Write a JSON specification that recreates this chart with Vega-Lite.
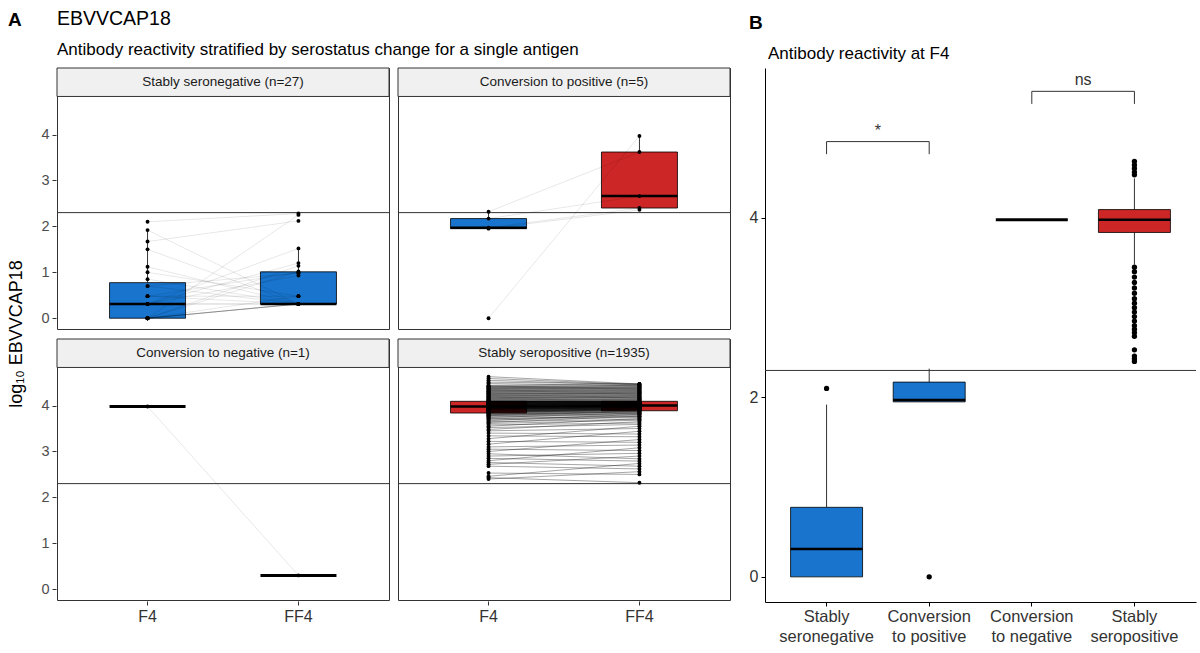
{
"$schema": "https://vega.github.io/schema/vega-lite/v6.json",
"background": "white",
"padding": {"left": 7, "right": 3, "top": 8, "bottom": 0},
"title": {"text": "A", "anchor": "start", "frame": "bounds", "fontSize": 19, "fontWeight": "bold", "color": "black", "offset": -21},
"config": {
  "font": "Liberation Sans",
  "view": {"stroke": "#333333", "strokeWidth": 1},
  "axis": {"grid": false, "labelColor": "#4d4d4d", "tickColor": "#333333", "domainColor": "#333333", "labelFontSize": 14.5, "tickSize": 4, "labelPadding": 3, "titleFontWeight": "normal", "titleColor": "black", "titleFontSize": 14},
  "title": {"color": "black", "subtitleColor": "black"}
},
"datasets": {
  "groups": [
    {"g": "SN", "label": "Stably seronegative", "strip": "Stably seronegative (n=27)", "f4s": "neg", "ff4s": "neg"},
    {"g": "CP", "label": "Conversion to positive", "strip": "Conversion to positive (n=5)", "f4s": "neg", "ff4s": "pos"},
    {"g": "CN", "label": "Conversion to negative", "strip": "Conversion to negative (n=1)", "f4s": "pos", "ff4s": "neg"},
    {"g": "SP", "label": "Stably seropositive", "strip": "Stably seropositive (n=1935)", "f4s": "pos", "ff4s": "pos"}
  ],
  "brackets": [
    {"x1": "Stably seronegative", "x2": "Conversion to positive", "y": 4.85, "ytip": 4.71, "label": "*"},
    {"x1": "Conversion to negative", "x2": "Stably seropositive", "y": 5.41, "ytip": 5.27, "label": "ns"}
  ],
  "obs": [
{"id":"n1","g":"SN","t":"F4","v":0,"s":"neg"},{"id":"n1","g":"SN","t":"FF4","v":0.31,"s":"neg"},
{"id":"n2","g":"SN","t":"F4","v":0,"s":"neg"},{"id":"n2","g":"SN","t":"FF4","v":0.31,"s":"neg"},
{"id":"n3","g":"SN","t":"F4","v":0,"s":"neg"},{"id":"n3","g":"SN","t":"FF4","v":0.31,"s":"neg"},
{"id":"n4","g":"SN","t":"F4","v":0,"s":"neg"},{"id":"n4","g":"SN","t":"FF4","v":0.31,"s":"neg"},
{"id":"n5","g":"SN","t":"F4","v":0,"s":"neg"},{"id":"n5","g":"SN","t":"FF4","v":0.31,"s":"neg"},
{"id":"n6","g":"SN","t":"F4","v":0,"s":"neg"},{"id":"n6","g":"SN","t":"FF4","v":0.48,"s":"neg"},
{"id":"n7","g":"SN","t":"F4","v":0,"s":"neg"},{"id":"n7","g":"SN","t":"FF4","v":1.14,"s":"neg"},
{"id":"n8","g":"SN","t":"F4","v":0,"s":"neg"},{"id":"n8","g":"SN","t":"FF4","v":0.31,"s":"neg"},
{"id":"n9","g":"SN","t":"F4","v":0,"s":"neg"},{"id":"n9","g":"SN","t":"FF4","v":2.25,"s":"neg"},
{"id":"n10","g":"SN","t":"F4","v":0,"s":"neg"},{"id":"n10","g":"SN","t":"FF4","v":1.02,"s":"neg"},
{"id":"n11","g":"SN","t":"F4","v":0.31,"s":"neg"},{"id":"n11","g":"SN","t":"FF4","v":0.31,"s":"neg"},
{"id":"n12","g":"SN","t":"F4","v":0.31,"s":"neg"},{"id":"n12","g":"SN","t":"FF4","v":1.20,"s":"neg"},
{"id":"n13","g":"SN","t":"F4","v":0.31,"s":"neg"},{"id":"n13","g":"SN","t":"FF4","v":0.31,"s":"neg"},
{"id":"n14","g":"SN","t":"F4","v":0.31,"s":"neg"},{"id":"n14","g":"SN","t":"FF4","v":1.52,"s":"neg"},
{"id":"n15","g":"SN","t":"F4","v":0.31,"s":"neg"},{"id":"n15","g":"SN","t":"FF4","v":0.93,"s":"neg"},
{"id":"n16","g":"SN","t":"F4","v":0.48,"s":"neg"},{"id":"n16","g":"SN","t":"FF4","v":0.31,"s":"neg"},
{"id":"n17","g":"SN","t":"F4","v":0.48,"s":"neg"},{"id":"n17","g":"SN","t":"FF4","v":1.0,"s":"neg"},
{"id":"n18","g":"SN","t":"F4","v":0.48,"s":"neg"},{"id":"n18","g":"SN","t":"FF4","v":0.48,"s":"neg"},
{"id":"n19","g":"SN","t":"F4","v":0.70,"s":"neg"},{"id":"n19","g":"SN","t":"FF4","v":0.31,"s":"neg"},
{"id":"n20","g":"SN","t":"F4","v":0.70,"s":"neg"},{"id":"n20","g":"SN","t":"FF4","v":0.98,"s":"neg"},
{"id":"n21","g":"SN","t":"F4","v":0.85,"s":"neg"},{"id":"n21","g":"SN","t":"FF4","v":0.31,"s":"neg"},
{"id":"n22","g":"SN","t":"F4","v":1.0,"s":"neg"},{"id":"n22","g":"SN","t":"FF4","v":0.48,"s":"neg"},
{"id":"n23","g":"SN","t":"F4","v":1.12,"s":"neg"},{"id":"n23","g":"SN","t":"FF4","v":0.31,"s":"neg"},
{"id":"n24","g":"SN","t":"F4","v":1.5,"s":"neg"},{"id":"n24","g":"SN","t":"FF4","v":0.31,"s":"neg"},
{"id":"n25","g":"SN","t":"F4","v":1.67,"s":"neg"},{"id":"n25","g":"SN","t":"FF4","v":2.12,"s":"neg"},
{"id":"n26","g":"SN","t":"F4","v":1.92,"s":"neg"},{"id":"n26","g":"SN","t":"FF4","v":0.31,"s":"neg"},
{"id":"n27","g":"SN","t":"F4","v":2.1,"s":"neg"},{"id":"n27","g":"SN","t":"FF4","v":2.28,"s":"neg"},
{"id":"c1","g":"CP","t":"F4","v":0,"s":"neg"},{"id":"c1","g":"CP","t":"FF4","v":3.97,"s":"pos"},
{"id":"c2","g":"CP","t":"F4","v":2.32,"s":"neg"},{"id":"c2","g":"CP","t":"FF4","v":3.62,"s":"pos"},
{"id":"c3","g":"CP","t":"F4","v":2.17,"s":"neg"},{"id":"c3","g":"CP","t":"FF4","v":2.66,"s":"pos"},
{"id":"c4","g":"CP","t":"F4","v":1.97,"s":"neg"},{"id":"c4","g":"CP","t":"FF4","v":2.40,"s":"pos"},
{"id":"c5","g":"CP","t":"F4","v":1.95,"s":"neg"},{"id":"c5","g":"CP","t":"FF4","v":2.36,"s":"pos"},
{"id":"m1","g":"CN","t":"F4","v":3.98,"s":"pos"},{"id":"m1","g":"CN","t":"FF4","v":0.30,"s":"neg"},
{"id":"p1","g":"SP","t":"F4","v":2.40,"s":"pos"},{"id":"p1","g":"SP","t":"FF4","v":2.56,"s":"pos"},
{"id":"p2","g":"SP","t":"F4","v":2.43,"s":"pos"},{"id":"p2","g":"SP","t":"FF4","v":2.32,"s":"pos"},
{"id":"p3","g":"SP","t":"F4","v":2.46,"s":"pos"},{"id":"p3","g":"SP","t":"FF4","v":2.74,"s":"pos"},
{"id":"p4","g":"SP","t":"F4","v":2.53,"s":"pos"},{"id":"p4","g":"SP","t":"FF4","v":2.50,"s":"pos"},
{"id":"p5","g":"SP","t":"F4","v":2.68,"s":"pos"},{"id":"p5","g":"SP","t":"FF4","v":2.62,"s":"pos"},
{"id":"p6","g":"SP","t":"F4","v":2.72,"s":"pos"},{"id":"p6","g":"SP","t":"FF4","v":2.90,"s":"pos"},
{"id":"p7","g":"SP","t":"F4","v":2.76,"s":"pos"},{"id":"p7","g":"SP","t":"FF4","v":2.68,"s":"pos"},
{"id":"p8","g":"SP","t":"F4","v":2.80,"s":"pos"},{"id":"p8","g":"SP","t":"FF4","v":3.08,"s":"pos"},
{"id":"p9","g":"SP","t":"F4","v":2.85,"s":"pos"},{"id":"p9","g":"SP","t":"FF4","v":2.79,"s":"pos"},
{"id":"p10","g":"SP","t":"F4","v":2.90,"s":"pos"},{"id":"p10","g":"SP","t":"FF4","v":2.96,"s":"pos"},
{"id":"p11","g":"SP","t":"F4","v":2.95,"s":"pos"},{"id":"p11","g":"SP","t":"FF4","v":2.84,"s":"pos"},
{"id":"p12","g":"SP","t":"F4","v":3.00,"s":"pos"},{"id":"p12","g":"SP","t":"FF4","v":3.26,"s":"pos"},
{"id":"p13","g":"SP","t":"F4","v":3.05,"s":"pos"},{"id":"p13","g":"SP","t":"FF4","v":3.02,"s":"pos"},
{"id":"p14","g":"SP","t":"F4","v":3.10,"s":"pos"},{"id":"p14","g":"SP","t":"FF4","v":3.14,"s":"pos"},
{"id":"p15","g":"SP","t":"F4","v":3.16,"s":"pos"},{"id":"p15","g":"SP","t":"FF4","v":3.44,"s":"pos"},
{"id":"p16","g":"SP","t":"F4","v":3.22,"s":"pos"},{"id":"p16","g":"SP","t":"FF4","v":3.20,"s":"pos"},
{"id":"p17","g":"SP","t":"F4","v":3.28,"s":"pos"},{"id":"p17","g":"SP","t":"FF4","v":3.55,"s":"pos"},
{"id":"p18","g":"SP","t":"F4","v":3.34,"s":"pos"},{"id":"p18","g":"SP","t":"FF4","v":3.32,"s":"pos"},
{"id":"p19","g":"SP","t":"F4","v":3.40,"s":"pos"},{"id":"p19","g":"SP","t":"FF4","v":3.38,"s":"pos"},
{"id":"p20","g":"SP","t":"F4","v":3.45,"s":"pos"},{"id":"p20","g":"SP","t":"FF4","v":3.50,"s":"pos"},
{"id":"p21","g":"SP","t":"F4","v":3.48,"s":"pos"},{"id":"p21","g":"SP","t":"FF4","v":3.65,"s":"pos"},
{"id":"p22","g":"SP","t":"F4","v":3.52,"s":"pos"},{"id":"p22","g":"SP","t":"FF4","v":3.59,"s":"pos"},
{"id":"p23","g":"SP","t":"F4","v":3.55,"s":"pos"},{"id":"p23","g":"SP","t":"FF4","v":3.72,"s":"pos"},
{"id":"p24","g":"SP","t":"F4","v":3.58,"s":"pos"},{"id":"p24","g":"SP","t":"FF4","v":3.62,"s":"pos"},
{"id":"p25","g":"SP","t":"F4","v":3.61,"s":"pos"},{"id":"p25","g":"SP","t":"FF4","v":3.68,"s":"pos"},
{"id":"p26","g":"SP","t":"F4","v":3.63,"s":"pos"},{"id":"p26","g":"SP","t":"FF4","v":3.77,"s":"pos"},
{"id":"p27","g":"SP","t":"F4","v":3.65,"s":"pos"},{"id":"p27","g":"SP","t":"FF4","v":3.70,"s":"pos"},
{"id":"p28","g":"SP","t":"F4","v":3.67,"s":"pos"},{"id":"p28","g":"SP","t":"FF4","v":3.81,"s":"pos"},
{"id":"p29","g":"SP","t":"F4","v":3.69,"s":"pos"},{"id":"p29","g":"SP","t":"FF4","v":3.74,"s":"pos"},
{"id":"p30","g":"SP","t":"F4","v":3.71,"s":"pos"},{"id":"p30","g":"SP","t":"FF4","v":3.78,"s":"pos"},
{"id":"p31","g":"SP","t":"F4","v":3.72,"s":"pos"},{"id":"p31","g":"SP","t":"FF4","v":3.76,"s":"pos"},
{"id":"p32","g":"SP","t":"F4","v":3.74,"s":"pos"},{"id":"p32","g":"SP","t":"FF4","v":3.84,"s":"pos"},
{"id":"p33","g":"SP","t":"F4","v":3.75,"s":"pos"},{"id":"p33","g":"SP","t":"FF4","v":3.80,"s":"pos"},
{"id":"p34","g":"SP","t":"F4","v":3.77,"s":"pos"},{"id":"p34","g":"SP","t":"FF4","v":3.82,"s":"pos"},
{"id":"p35","g":"SP","t":"F4","v":3.78,"s":"pos"},{"id":"p35","g":"SP","t":"FF4","v":3.87,"s":"pos"},
{"id":"p36","g":"SP","t":"F4","v":3.79,"s":"pos"},{"id":"p36","g":"SP","t":"FF4","v":3.83,"s":"pos"},
{"id":"p37","g":"SP","t":"F4","v":3.80,"s":"pos"},{"id":"p37","g":"SP","t":"FF4","v":3.88,"s":"pos"},
{"id":"p38","g":"SP","t":"F4","v":3.81,"s":"pos"},{"id":"p38","g":"SP","t":"FF4","v":3.85,"s":"pos"},
{"id":"p39","g":"SP","t":"F4","v":3.82,"s":"pos"},{"id":"p39","g":"SP","t":"FF4","v":3.86,"s":"pos"},
{"id":"p40","g":"SP","t":"F4","v":3.83,"s":"pos"},{"id":"p40","g":"SP","t":"FF4","v":3.88,"s":"pos"},
{"id":"p41","g":"SP","t":"F4","v":3.84,"s":"pos"},{"id":"p41","g":"SP","t":"FF4","v":3.89,"s":"pos"},
{"id":"p42","g":"SP","t":"F4","v":3.85,"s":"pos"},{"id":"p42","g":"SP","t":"FF4","v":3.90,"s":"pos"},
{"id":"p43","g":"SP","t":"F4","v":3.85,"s":"pos"},{"id":"p43","g":"SP","t":"FF4","v":3.90,"s":"pos"},
{"id":"p44","g":"SP","t":"F4","v":3.86,"s":"pos"},{"id":"p44","g":"SP","t":"FF4","v":3.91,"s":"pos"},
{"id":"p45","g":"SP","t":"F4","v":3.86,"s":"pos"},{"id":"p45","g":"SP","t":"FF4","v":3.91,"s":"pos"},
{"id":"p46","g":"SP","t":"F4","v":3.87,"s":"pos"},{"id":"p46","g":"SP","t":"FF4","v":3.92,"s":"pos"},
{"id":"p47","g":"SP","t":"F4","v":3.87,"s":"pos"},{"id":"p47","g":"SP","t":"FF4","v":3.92,"s":"pos"},
{"id":"p48","g":"SP","t":"F4","v":3.88,"s":"pos"},{"id":"p48","g":"SP","t":"FF4","v":3.92,"s":"pos"},
{"id":"p49","g":"SP","t":"F4","v":3.88,"s":"pos"},{"id":"p49","g":"SP","t":"FF4","v":3.93,"s":"pos"},
{"id":"p50","g":"SP","t":"F4","v":3.89,"s":"pos"},{"id":"p50","g":"SP","t":"FF4","v":3.93,"s":"pos"},
{"id":"p51","g":"SP","t":"F4","v":3.89,"s":"pos"},{"id":"p51","g":"SP","t":"FF4","v":3.93,"s":"pos"},
{"id":"p52","g":"SP","t":"F4","v":3.90,"s":"pos"},{"id":"p52","g":"SP","t":"FF4","v":3.94,"s":"pos"},
{"id":"p53","g":"SP","t":"F4","v":3.90,"s":"pos"},{"id":"p53","g":"SP","t":"FF4","v":3.94,"s":"pos"},
{"id":"p54","g":"SP","t":"F4","v":3.91,"s":"pos"},{"id":"p54","g":"SP","t":"FF4","v":3.94,"s":"pos"},
{"id":"p55","g":"SP","t":"F4","v":3.91,"s":"pos"},{"id":"p55","g":"SP","t":"FF4","v":3.95,"s":"pos"},
{"id":"p56","g":"SP","t":"F4","v":3.92,"s":"pos"},{"id":"p56","g":"SP","t":"FF4","v":3.95,"s":"pos"},
{"id":"p57","g":"SP","t":"F4","v":3.92,"s":"pos"},{"id":"p57","g":"SP","t":"FF4","v":3.95,"s":"pos"},
{"id":"p58","g":"SP","t":"F4","v":3.92,"s":"pos"},{"id":"p58","g":"SP","t":"FF4","v":3.96,"s":"pos"},
{"id":"p59","g":"SP","t":"F4","v":3.93,"s":"pos"},{"id":"p59","g":"SP","t":"FF4","v":3.96,"s":"pos"},
{"id":"p60","g":"SP","t":"F4","v":3.93,"s":"pos"},{"id":"p60","g":"SP","t":"FF4","v":3.96,"s":"pos"},
{"id":"p61","g":"SP","t":"F4","v":3.93,"s":"pos"},{"id":"p61","g":"SP","t":"FF4","v":3.96,"s":"pos"},
{"id":"p62","g":"SP","t":"F4","v":3.94,"s":"pos"},{"id":"p62","g":"SP","t":"FF4","v":3.97,"s":"pos"},
{"id":"p63","g":"SP","t":"F4","v":3.94,"s":"pos"},{"id":"p63","g":"SP","t":"FF4","v":3.97,"s":"pos"},
{"id":"p64","g":"SP","t":"F4","v":3.94,"s":"pos"},{"id":"p64","g":"SP","t":"FF4","v":3.97,"s":"pos"},
{"id":"p65","g":"SP","t":"F4","v":3.95,"s":"pos"},{"id":"p65","g":"SP","t":"FF4","v":3.97,"s":"pos"},
{"id":"p66","g":"SP","t":"F4","v":3.95,"s":"pos"},{"id":"p66","g":"SP","t":"FF4","v":3.98,"s":"pos"},
{"id":"p67","g":"SP","t":"F4","v":3.95,"s":"pos"},{"id":"p67","g":"SP","t":"FF4","v":3.98,"s":"pos"},
{"id":"p68","g":"SP","t":"F4","v":3.96,"s":"pos"},{"id":"p68","g":"SP","t":"FF4","v":3.98,"s":"pos"},
{"id":"p69","g":"SP","t":"F4","v":3.96,"s":"pos"},{"id":"p69","g":"SP","t":"FF4","v":3.98,"s":"pos"},
{"id":"p70","g":"SP","t":"F4","v":3.96,"s":"pos"},{"id":"p70","g":"SP","t":"FF4","v":3.98,"s":"pos"},
{"id":"p71","g":"SP","t":"F4","v":3.96,"s":"pos"},{"id":"p71","g":"SP","t":"FF4","v":3.99,"s":"pos"},
{"id":"p72","g":"SP","t":"F4","v":3.97,"s":"pos"},{"id":"p72","g":"SP","t":"FF4","v":3.99,"s":"pos"},
{"id":"p73","g":"SP","t":"F4","v":3.97,"s":"pos"},{"id":"p73","g":"SP","t":"FF4","v":3.99,"s":"pos"},
{"id":"p74","g":"SP","t":"F4","v":3.97,"s":"pos"},{"id":"p74","g":"SP","t":"FF4","v":3.99,"s":"pos"},
{"id":"p75","g":"SP","t":"F4","v":3.97,"s":"pos"},{"id":"p75","g":"SP","t":"FF4","v":3.99,"s":"pos"},
{"id":"p76","g":"SP","t":"F4","v":3.97,"s":"pos"},{"id":"p76","g":"SP","t":"FF4","v":4.00,"s":"pos"},
{"id":"p77","g":"SP","t":"F4","v":3.98,"s":"pos"},{"id":"p77","g":"SP","t":"FF4","v":4.00,"s":"pos"},
{"id":"p78","g":"SP","t":"F4","v":3.98,"s":"pos"},{"id":"p78","g":"SP","t":"FF4","v":4.00,"s":"pos"},
{"id":"p79","g":"SP","t":"F4","v":3.98,"s":"pos"},{"id":"p79","g":"SP","t":"FF4","v":4.00,"s":"pos"},
{"id":"p80","g":"SP","t":"F4","v":3.98,"s":"pos"},{"id":"p80","g":"SP","t":"FF4","v":4.00,"s":"pos"},
{"id":"p81","g":"SP","t":"F4","v":3.98,"s":"pos"},{"id":"p81","g":"SP","t":"FF4","v":4.00,"s":"pos"},
{"id":"p82","g":"SP","t":"F4","v":3.99,"s":"pos"},{"id":"p82","g":"SP","t":"FF4","v":4.00,"s":"pos"},
{"id":"p83","g":"SP","t":"F4","v":3.99,"s":"pos"},{"id":"p83","g":"SP","t":"FF4","v":4.00,"s":"pos"},
{"id":"p84","g":"SP","t":"F4","v":3.99,"s":"pos"},{"id":"p84","g":"SP","t":"FF4","v":4.01,"s":"pos"},
{"id":"p85","g":"SP","t":"F4","v":3.99,"s":"pos"},{"id":"p85","g":"SP","t":"FF4","v":4.01,"s":"pos"},
{"id":"p86","g":"SP","t":"F4","v":4.00,"s":"pos"},{"id":"p86","g":"SP","t":"FF4","v":4.01,"s":"pos"},
{"id":"p87","g":"SP","t":"F4","v":4.00,"s":"pos"},{"id":"p87","g":"SP","t":"FF4","v":4.01,"s":"pos"},
{"id":"p88","g":"SP","t":"F4","v":4.00,"s":"pos"},{"id":"p88","g":"SP","t":"FF4","v":4.02,"s":"pos"},
{"id":"p89","g":"SP","t":"F4","v":4.00,"s":"pos"},{"id":"p89","g":"SP","t":"FF4","v":4.02,"s":"pos"},
{"id":"p90","g":"SP","t":"F4","v":4.01,"s":"pos"},{"id":"p90","g":"SP","t":"FF4","v":4.02,"s":"pos"},
{"id":"p91","g":"SP","t":"F4","v":4.01,"s":"pos"},{"id":"p91","g":"SP","t":"FF4","v":4.02,"s":"pos"},
{"id":"p92","g":"SP","t":"F4","v":4.01,"s":"pos"},{"id":"p92","g":"SP","t":"FF4","v":4.03,"s":"pos"},
{"id":"p93","g":"SP","t":"F4","v":4.02,"s":"pos"},{"id":"p93","g":"SP","t":"FF4","v":4.03,"s":"pos"},
{"id":"p94","g":"SP","t":"F4","v":4.02,"s":"pos"},{"id":"p94","g":"SP","t":"FF4","v":4.03,"s":"pos"},
{"id":"p95","g":"SP","t":"F4","v":4.02,"s":"pos"},{"id":"p95","g":"SP","t":"FF4","v":4.03,"s":"pos"},
{"id":"p96","g":"SP","t":"F4","v":4.03,"s":"pos"},{"id":"p96","g":"SP","t":"FF4","v":4.04,"s":"pos"},
{"id":"p97","g":"SP","t":"F4","v":4.03,"s":"pos"},{"id":"p97","g":"SP","t":"FF4","v":4.04,"s":"pos"},
{"id":"p98","g":"SP","t":"F4","v":4.03,"s":"pos"},{"id":"p98","g":"SP","t":"FF4","v":4.04,"s":"pos"},
{"id":"p99","g":"SP","t":"F4","v":4.04,"s":"pos"},{"id":"p99","g":"SP","t":"FF4","v":4.04,"s":"pos"},
{"id":"p100","g":"SP","t":"F4","v":4.04,"s":"pos"},{"id":"p100","g":"SP","t":"FF4","v":4.05,"s":"pos"},
{"id":"p101","g":"SP","t":"F4","v":4.04,"s":"pos"},{"id":"p101","g":"SP","t":"FF4","v":4.05,"s":"pos"},
{"id":"p102","g":"SP","t":"F4","v":4.05,"s":"pos"},{"id":"p102","g":"SP","t":"FF4","v":4.05,"s":"pos"},
{"id":"p103","g":"SP","t":"F4","v":4.05,"s":"pos"},{"id":"p103","g":"SP","t":"FF4","v":4.05,"s":"pos"},
{"id":"p104","g":"SP","t":"F4","v":4.05,"s":"pos"},{"id":"p104","g":"SP","t":"FF4","v":4.06,"s":"pos"},
{"id":"p105","g":"SP","t":"F4","v":4.06,"s":"pos"},{"id":"p105","g":"SP","t":"FF4","v":4.06,"s":"pos"},
{"id":"p106","g":"SP","t":"F4","v":4.06,"s":"pos"},{"id":"p106","g":"SP","t":"FF4","v":4.06,"s":"pos"},
{"id":"p107","g":"SP","t":"F4","v":4.06,"s":"pos"},{"id":"p107","g":"SP","t":"FF4","v":4.06,"s":"pos"},
{"id":"p108","g":"SP","t":"F4","v":4.07,"s":"pos"},{"id":"p108","g":"SP","t":"FF4","v":4.07,"s":"pos"},
{"id":"p109","g":"SP","t":"F4","v":4.07,"s":"pos"},{"id":"p109","g":"SP","t":"FF4","v":4.07,"s":"pos"},
{"id":"p110","g":"SP","t":"F4","v":4.07,"s":"pos"},{"id":"p110","g":"SP","t":"FF4","v":4.07,"s":"pos"},
{"id":"p111","g":"SP","t":"F4","v":4.08,"s":"pos"},{"id":"p111","g":"SP","t":"FF4","v":4.07,"s":"pos"},
{"id":"p112","g":"SP","t":"F4","v":4.08,"s":"pos"},{"id":"p112","g":"SP","t":"FF4","v":4.08,"s":"pos"},
{"id":"p113","g":"SP","t":"F4","v":4.08,"s":"pos"},{"id":"p113","g":"SP","t":"FF4","v":4.08,"s":"pos"},
{"id":"p114","g":"SP","t":"F4","v":4.08,"s":"pos"},{"id":"p114","g":"SP","t":"FF4","v":4.08,"s":"pos"},
{"id":"p115","g":"SP","t":"F4","v":4.09,"s":"pos"},{"id":"p115","g":"SP","t":"FF4","v":4.08,"s":"pos"},
{"id":"p116","g":"SP","t":"F4","v":4.09,"s":"pos"},{"id":"p116","g":"SP","t":"FF4","v":4.09,"s":"pos"},
{"id":"p117","g":"SP","t":"F4","v":4.09,"s":"pos"},{"id":"p117","g":"SP","t":"FF4","v":4.09,"s":"pos"},
{"id":"p118","g":"SP","t":"F4","v":4.09,"s":"pos"},{"id":"p118","g":"SP","t":"FF4","v":4.09,"s":"pos"},
{"id":"p119","g":"SP","t":"F4","v":4.09,"s":"pos"},{"id":"p119","g":"SP","t":"FF4","v":4.09,"s":"pos"},
{"id":"p120","g":"SP","t":"F4","v":4.09,"s":"pos"},{"id":"p120","g":"SP","t":"FF4","v":4.09,"s":"pos"},
{"id":"p121","g":"SP","t":"F4","v":4.10,"s":"pos"},{"id":"p121","g":"SP","t":"FF4","v":4.12,"s":"pos"},
{"id":"p122","g":"SP","t":"F4","v":4.11,"s":"pos"},{"id":"p122","g":"SP","t":"FF4","v":4.10,"s":"pos"},
{"id":"p123","g":"SP","t":"F4","v":4.12,"s":"pos"},{"id":"p123","g":"SP","t":"FF4","v":4.15,"s":"pos"},
{"id":"p124","g":"SP","t":"F4","v":4.13,"s":"pos"},{"id":"p124","g":"SP","t":"FF4","v":4.11,"s":"pos"},
{"id":"p125","g":"SP","t":"F4","v":4.14,"s":"pos"},{"id":"p125","g":"SP","t":"FF4","v":4.13,"s":"pos"},
{"id":"p126","g":"SP","t":"F4","v":4.15,"s":"pos"},{"id":"p126","g":"SP","t":"FF4","v":4.18,"s":"pos"},
{"id":"p127","g":"SP","t":"F4","v":4.16,"s":"pos"},{"id":"p127","g":"SP","t":"FF4","v":4.14,"s":"pos"},
{"id":"p128","g":"SP","t":"F4","v":4.17,"s":"pos"},{"id":"p128","g":"SP","t":"FF4","v":4.21,"s":"pos"},
{"id":"p129","g":"SP","t":"F4","v":4.18,"s":"pos"},{"id":"p129","g":"SP","t":"FF4","v":4.16,"s":"pos"},
{"id":"p130","g":"SP","t":"F4","v":4.19,"s":"pos"},{"id":"p130","g":"SP","t":"FF4","v":4.19,"s":"pos"},
{"id":"p131","g":"SP","t":"F4","v":4.20,"s":"pos"},{"id":"p131","g":"SP","t":"FF4","v":4.17,"s":"pos"},
{"id":"p132","g":"SP","t":"F4","v":4.21,"s":"pos"},{"id":"p132","g":"SP","t":"FF4","v":4.24,"s":"pos"},
{"id":"p133","g":"SP","t":"F4","v":4.22,"s":"pos"},{"id":"p133","g":"SP","t":"FF4","v":4.20,"s":"pos"},
{"id":"p134","g":"SP","t":"F4","v":4.23,"s":"pos"},{"id":"p134","g":"SP","t":"FF4","v":4.22,"s":"pos"},
{"id":"p135","g":"SP","t":"F4","v":4.24,"s":"pos"},{"id":"p135","g":"SP","t":"FF4","v":4.27,"s":"pos"},
{"id":"p136","g":"SP","t":"F4","v":4.25,"s":"pos"},{"id":"p136","g":"SP","t":"FF4","v":4.23,"s":"pos"},
{"id":"p137","g":"SP","t":"F4","v":4.26,"s":"pos"},{"id":"p137","g":"SP","t":"FF4","v":4.29,"s":"pos"},
{"id":"p138","g":"SP","t":"F4","v":4.27,"s":"pos"},{"id":"p138","g":"SP","t":"FF4","v":4.25,"s":"pos"},
{"id":"p139","g":"SP","t":"F4","v":4.28,"s":"pos"},{"id":"p139","g":"SP","t":"FF4","v":4.26,"s":"pos"},
{"id":"p140","g":"SP","t":"F4","v":4.29,"s":"pos"},{"id":"p140","g":"SP","t":"FF4","v":4.28,"s":"pos"},
{"id":"p141","g":"SP","t":"F4","v":4.30,"s":"pos"},{"id":"p141","g":"SP","t":"FF4","v":4.32,"s":"pos"},
{"id":"p142","g":"SP","t":"F4","v":4.31,"s":"pos"},{"id":"p142","g":"SP","t":"FF4","v":4.30,"s":"pos"},
{"id":"p143","g":"SP","t":"F4","v":4.32,"s":"pos"},{"id":"p143","g":"SP","t":"FF4","v":4.35,"s":"pos"},
{"id":"p144","g":"SP","t":"F4","v":4.33,"s":"pos"},{"id":"p144","g":"SP","t":"FF4","v":4.31,"s":"pos"},
{"id":"p145","g":"SP","t":"F4","v":4.34,"s":"pos"},{"id":"p145","g":"SP","t":"FF4","v":4.33,"s":"pos"},
{"id":"p146","g":"SP","t":"F4","v":4.35,"s":"pos"},{"id":"p146","g":"SP","t":"FF4","v":4.38,"s":"pos"},
{"id":"p147","g":"SP","t":"F4","v":4.36,"s":"pos"},{"id":"p147","g":"SP","t":"FF4","v":4.34,"s":"pos"},
{"id":"p148","g":"SP","t":"F4","v":4.37,"s":"pos"},{"id":"p148","g":"SP","t":"FF4","v":4.41,"s":"pos"},
{"id":"p149","g":"SP","t":"F4","v":4.38,"s":"pos"},{"id":"p149","g":"SP","t":"FF4","v":4.36,"s":"pos"},
{"id":"p150","g":"SP","t":"F4","v":4.39,"s":"pos"},{"id":"p150","g":"SP","t":"FF4","v":4.39,"s":"pos"},
{"id":"p151","g":"SP","t":"F4","v":4.40,"s":"pos"},{"id":"p151","g":"SP","t":"FF4","v":4.37,"s":"pos"},
{"id":"p152","g":"SP","t":"F4","v":4.41,"s":"pos"},{"id":"p152","g":"SP","t":"FF4","v":4.44,"s":"pos"},
{"id":"p153","g":"SP","t":"F4","v":4.42,"s":"pos"},{"id":"p153","g":"SP","t":"FF4","v":4.40,"s":"pos"},
{"id":"p154","g":"SP","t":"F4","v":4.43,"s":"pos"},{"id":"p154","g":"SP","t":"FF4","v":4.42,"s":"pos"},
{"id":"p155","g":"SP","t":"F4","v":4.44,"s":"pos"},{"id":"p155","g":"SP","t":"FF4","v":4.47,"s":"pos"},
{"id":"p156","g":"SP","t":"F4","v":4.48,"s":"pos"},{"id":"p156","g":"SP","t":"FF4","v":4.43,"s":"pos"},
{"id":"p157","g":"SP","t":"F4","v":4.51,"s":"pos"},{"id":"p157","g":"SP","t":"FF4","v":4.47,"s":"pos"},
{"id":"p158","g":"SP","t":"F4","v":4.55,"s":"pos"},{"id":"p158","g":"SP","t":"FF4","v":4.45,"s":"pos"},
{"id":"p159","g":"SP","t":"F4","v":4.59,"s":"pos"},{"id":"p159","g":"SP","t":"FF4","v":4.46,"s":"pos"},
{"id":"p160","g":"SP","t":"F4","v":4.63,"s":"pos"},{"id":"p160","g":"SP","t":"FF4","v":4.47,"s":"pos"}
  ]
},
"spacing": 18,
"hconcat": [
  {
    "data": {"name": "obs"},
    "transform": [{"lookup": "g", "from": {"data": {"name": "groups"}, "key": "g", "fields": ["label", "strip", "f4s", "ff4s"]}}],
    "title": {"text": "EBVVCAP18", "subtitle": "Antibody reactivity stratified by serostatus change for a single antigen", "anchor": "start", "frame": "group", "fontSize": 19.5, "fontWeight": "normal", "subtitleFontSize": 17, "subtitlePadding": 13, "offset": 8},
    "facet": {
      "row": {"field": "f4s", "type": "nominal", "sort": ["neg", "pos"], "header": {"title": "log₁₀ EBVVCAP18", "labels": false, "titleFontSize": 18, "titleFontWeight": "normal", "titleColor": "black", "titlePadding": 4}},
      "column": {"field": "ff4s", "type": "nominal", "sort": ["neg", "pos"], "header": {"title": null, "labels": false}}
    },
    "spacing": {"row": 8, "column": 7},
    "spec": {
      "width": 332,
      "height": 261,
      "layer": [
        {
          "transform": [{"filter": "datum.s === 'neg' && datum.g !== 'CN'"}],
          "mark": {"type": "boxplot", "size": 76, "extent": 1.5, "outliers": false, "box": {"fill": "#1874CD", "stroke": "black", "strokeWidth": 0.8}, "median": {"color": "black", "thickness": 2.5, "opacity": 1}, "rule": {"color": "black", "strokeWidth": 0.8}},
          "encoding": {
            "x": {"field": "t", "type": "nominal", "title": null, "scale": {"type": "band", "domain": ["F4", "FF4"], "paddingInner": 0, "paddingOuter": 0.1}, "axis": {"labelAngle": 0, "labelFontSize": 16, "labelColor": "#333333", "domain": false}},
            "y": {"field": "v", "type": "quantitative", "title": null, "scale": {"domain": [-0.235, 5.45], "nice": false, "zero": false}, "axis": {"values": [0, 1, 2, 3, 4], "format": "d", "domain": false}}
          }
        },
        {
          "transform": [{"filter": "datum.s === 'pos' && datum.g !== 'CN'"}],
          "mark": {"type": "boxplot", "size": 76, "extent": 1.5, "outliers": false, "box": {"fill": "#CD2626", "stroke": "black", "strokeWidth": 0.8}, "median": {"color": "black", "thickness": 2.5, "opacity": 1}, "rule": {"color": "black", "strokeWidth": 0.8}},
          "encoding": {
            "x": {"field": "t", "type": "nominal", "title": null},
            "y": {"field": "v", "type": "quantitative", "title": null}
          }
        },
        {
          "transform": [{"filter": "datum.g === 'CN'"}],
          "mark": {"type": "tick", "size": 76, "thickness": 3, "color": "black", "opacity": 1},
          "encoding": {
            "x": {"field": "t", "type": "nominal", "title": null},
            "y": {"field": "v", "type": "quantitative", "title": null}
          }
        },
        {
          "transform": [{"aggregate": [{"op": "count", "as": "n"}], "groupby": ["strip"]}],
          "mark": {"type": "rule", "color": "#333333", "strokeWidth": 1},
          "encoding": {"y": {"datum": 2.3}}
        },
        {
          "transform": [{"filter": "datum.g !== 'SP'"}],
          "mark": {"type": "line", "color": "black", "strokeWidth": 0.8, "opacity": 0.12},
          "encoding": {"x": {"field": "t", "type": "nominal", "title": null}, "y": {"field": "v", "type": "quantitative", "title": null}, "detail": {"field": "id"}}
        },
        {
          "transform": [{"filter": "datum.g === 'SP'"}],
          "mark": {"type": "line", "color": "black", "strokeWidth": 1, "opacity": 0.35},
          "encoding": {"x": {"field": "t", "type": "nominal", "title": null}, "y": {"field": "v", "type": "quantitative", "title": null}, "detail": {"field": "id"}}
        },
        {
          "mark": {"type": "circle", "size": 15, "color": "black", "opacity": 1},
          "encoding": {"x": {"field": "t", "type": "nominal", "title": null}, "y": {"field": "v", "type": "quantitative", "title": null}}
        },
        {
          "transform": [{"aggregate": [{"op": "count", "as": "n"}], "groupby": ["strip"]}],
          "mark": {"type": "rect", "fill": "#f0f0f0", "stroke": "#333333", "strokeWidth": 1},
          "encoding": {"y": {"datum": 4.83}, "y2": {"datum": 5.45}}
        },
        {
          "transform": [{"aggregate": [{"op": "count", "as": "n"}], "groupby": ["strip"]}],
          "mark": {"type": "text", "fontSize": 13.5, "color": "#1a1a1a", "baseline": "middle"},
          "encoding": {"y": {"datum": 5.14}, "text": {"field": "strip"}}
        }
      ]
    }
  },
  {
    "width": 431,
    "height": 534,
    "view": {"stroke": null},
    "title": {"text": "B", "subtitle": "\u200b\u00a0\u00a0\u00a0\u00a0Antibody reactivity at F4", "anchor": "start", "frame": "bounds", "fontSize": 19, "fontWeight": "bold", "subtitleFontSize": 17, "subtitlePadding": 13, "offset": 6},
    "layer": [
      {
        "data": {"name": "obs"},
        "transform": [{"filter": "datum.t === 'F4' && datum.s === 'neg'"}, {"lookup": "g", "from": {"data": {"name": "groups"}, "key": "g", "fields": ["label"]}}],
        "mark": {"type": "boxplot", "size": 72, "extent": 1.5, "box": {"fill": "#1874CD", "stroke": "black", "strokeWidth": 0.8}, "median": {"color": "black", "thickness": 2.5, "opacity": 1}, "rule": {"color": "#333333", "strokeWidth": 1}, "outliers": {"color": "black", "size": 28, "filled": true, "opacity": 1}},
        "encoding": {
          "x": {"field": "label", "type": "nominal", "title": null, "scale": {"type": "band", "domain": ["Stably seronegative", "Conversion to positive", "Conversion to negative", "Stably seropositive"], "paddingInner": 0, "paddingOuter": 0.1}, "axis": {"labelAngle": 0, "labelFontSize": 16.5, "labelColor": "#333333", "domainColor": "black", "tickColor": "black", "labelLineHeight": 20, "labelPadding": 2, "labelExpr": "[slice(datum.label, 0, indexof(datum.label, ' ')), slice(datum.label, indexof(datum.label, ' ') + 1)]"}},
          "y": {"field": "v", "type": "quantitative", "title": null, "scale": {"domain": [-0.28, 5.67], "nice": false, "zero": false}, "axis": {"values": [0, 2, 4], "format": "d", "labelFontSize": 16, "labelColor": "#333333", "domainColor": "black", "tickColor": "black"}}
        }
      },
      {
        "data": {"name": "obs"},
        "transform": [{"filter": "datum.t === 'F4' && datum.s === 'pos' && datum.g !== 'CN'"}, {"lookup": "g", "from": {"data": {"name": "groups"}, "key": "g", "fields": ["label"]}}],
        "mark": {"type": "boxplot", "size": 72, "extent": 1.5, "box": {"fill": "#CD2626", "stroke": "black", "strokeWidth": 0.8}, "median": {"color": "black", "thickness": 2.5, "opacity": 1}, "rule": {"color": "#333333", "strokeWidth": 1}, "outliers": {"color": "black", "size": 28, "filled": true, "opacity": 1}},
        "encoding": {
          "x": {"field": "label", "type": "nominal", "title": null},
          "y": {"field": "v", "type": "quantitative", "title": null}
        }
      },
      {
        "data": {"name": "obs"},
        "transform": [{"filter": "datum.t === 'F4' && datum.g === 'CN'"}, {"lookup": "g", "from": {"data": {"name": "groups"}, "key": "g", "fields": ["label"]}}],
        "mark": {"type": "tick", "size": 72, "thickness": 3, "color": "black", "opacity": 1},
        "encoding": {
          "x": {"field": "label", "type": "nominal", "title": null},
          "y": {"field": "v", "type": "quantitative", "title": null}
        }
      },
      {
        "data": {"values": [{}]},
        "mark": {"type": "rule", "color": "#333333", "strokeWidth": 1},
        "encoding": {"y": {"datum": 2.3}}
      },
      {
        "data": {"name": "brackets"},
        "mark": {"type": "rule", "color": "#333333", "strokeWidth": 1},
        "encoding": {"x": {"field": "x1", "type": "nominal", "title": null}, "x2": {"field": "x2"}, "y": {"field": "y", "type": "quantitative", "title": null}}
      },
      {
        "data": {"name": "brackets"},
        "mark": {"type": "rule", "color": "#333333", "strokeWidth": 1},
        "encoding": {"x": {"field": "x1", "type": "nominal", "title": null}, "y": {"field": "y", "type": "quantitative", "title": null}, "y2": {"field": "ytip"}}
      },
      {
        "data": {"name": "brackets"},
        "mark": {"type": "rule", "color": "#333333", "strokeWidth": 1},
        "encoding": {"x": {"field": "x2", "type": "nominal", "title": null}, "y": {"field": "y", "type": "quantitative", "title": null}, "y2": {"field": "ytip"}}
      },
      {
        "data": {"name": "brackets"},
        "mark": {"type": "text", "fontSize": 16, "baseline": "bottom", "dy": -3, "color": "#333333"},
        "encoding": {"x": {"field": "x1", "type": "nominal", "title": null, "bandPosition": 1}, "y": {"field": "y", "type": "quantitative", "title": null}, "text": {"field": "label"}}
      }
    ]
  }
]
}
